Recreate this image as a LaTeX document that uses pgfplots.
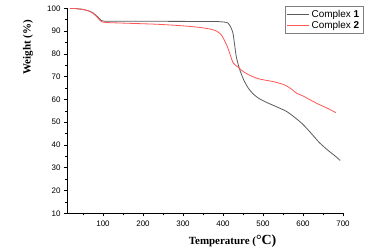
\documentclass[border=0pt]{standalone}
\usepackage{fontspec}
\setmainfont{Liberation Sans}
\newfontfamily\timesf{Liberation Serif}
\usepackage{pgfplots}
\pgfplotsset{compat=1.18}
\definecolor{cone}{RGB}{90,90,90}
\definecolor{ctwo}{RGB}{255,85,85}
\begin{document}
\begin{tikzpicture}
\begin{axis}[
 scale only axis, width=276bp, height=205bp,
 xmin=10, xmax=700, ymin=10, ymax=100,
 axis lines=left, axis line style={-, black, line width=0.6bp},
 xtick={100,200,...,700}, minor xtick={50,150,...,650},
 ytick={10,20,...,100}, minor ytick={15,25,...,95},
 tick align=outside, major tick length=3bp, minor tick length=2bp,
 tick style={black, line width=0.5bp},
 ticklabel style={font=\fontsize{8}{9}\selectfont},
 xticklabel style={yshift=-1.5bp},
 /pgf/number format/assume math mode=true,
 xlabel={\timesf\bfseries\fontsize{11}{12}\selectfont Temperature (\fontsize{14}{14}\selectfont °C)},
 xlabel style={at={(axis description cs:0.6,-0.137)}, anchor=center},
 ylabel={\timesf\bfseries\fontsize{11}{12}\selectfont Weight (\%)},
 ylabel style={at={(axis description cs:-0.141,0.81)}, anchor=center},
 legend style={at={(axis description cs:1.0725,1.011)}, anchor=north east,
   draw=gray, line width=0.5bp, font=\fontsize{10}{11}\selectfont,
   inner sep=1.5bp, row sep=-1bp},
 legend cell align=left,
 legend image code/.code={\draw[#1] (0bp,0bp) -- (22bp,0bp);},
 every axis plot/.append style={line width=0.8bp},
]
\addplot[cone, smooth, tension=0.4] coordinates {
(17,100) (30,99.9) (50,99.5) (65,98.8) (75,98.0) (85,96.5) (95,94.8) (105,94.3)
(150,94.3) (200,94.3) (300,94.25) (380,94.2) (400,94.0) (412,93.6) (420,91.5)
(425,89) (429,84) (433,79) (438,75.3) (444,72) (452,68.5) (463,65) (476,62.3)
(490,60.4) (510,58.6) (540,56.3) (560,54.6) (580,52.0) (600,49.0) (620,45.2)
(640,41.2) (660,38.0) (680,35.2) (693,33.2)
};
\addlegendentry{Complex \textbf{1}}
\addplot[ctwo, smooth, tension=0.4] coordinates {
(17,100) (30,99.9) (50,99.5) (65,98.8) (75,97.8) (85,96.2) (95,94.3) (105,93.8)
(150,93.5) (234,93.0) (300,92.3) (342,91.6) (370,90.8) (384,90.0) (395,88.5)
(401,86.8) (410,83.5) (417,80.2) (422,77.5) (426,75.9) (432,74.9) (438,74.1)
(450,72.3) (467,70.6) (490,69.0) (526,67.8) (550,66.6) (562,65.6) (572,64.4)
(584,62.7) (600,61.5) (634,58.3) (660,56.2) (682,54.2)
};
\addlegendentry{Complex \textbf{2}}
\end{axis}
\path ([shift={(-67bp,-38.7bp)}]current axis.south west) rectangle ([shift={(49bp,8.3bp)}]current axis.north east);
\end{tikzpicture}
\end{document}
